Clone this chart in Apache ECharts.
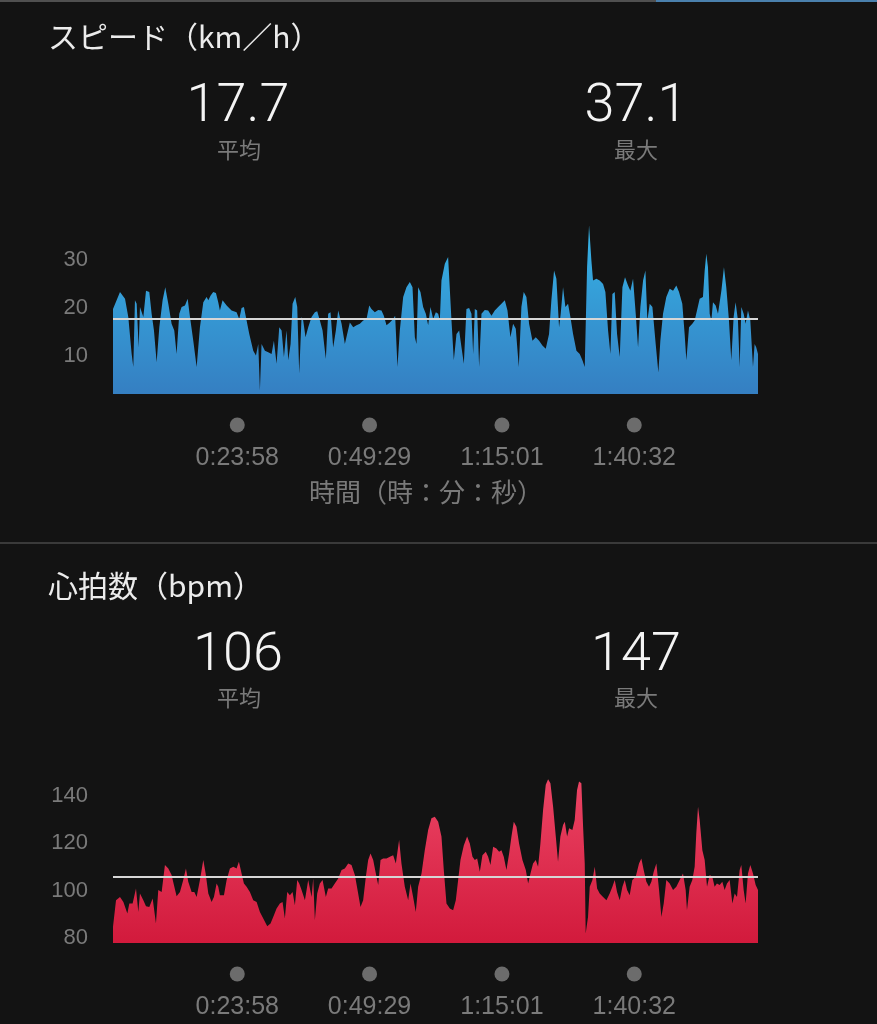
<!DOCTYPE html>
<html>
<head>
<meta charset="utf-8">
<script src="https://cdn.jsdelivr.net/npm/echarts@6/dist/echarts.min.js"></script>
<style>
html,body{margin:0;padding:0;background:#131313;}
#chart{width:877px;height:1024px;}
</style>
</head>
<body>
<div id="chart"></div>
<script>
// ---- Data ----
const tickLabels = ['0:23:58', '0:49:29', '1:15:01', '1:40:32'];
const speedTicks = [10, 20, 30];
const hrTicks = [80, 100, 120, 140];

const speedTitle = 'スピード（km／h）';
const hrTitle = '心拍数（bpm）';
const speedStats = ['17.7', '37.1'];
const hrStats = ['106', '147'];
const statNames = ['平均', '最大'];
const axisName = '時間（時：分：秒）';
const speedAvg = 17.7;
const hrAvg = 106;

// elapsed seconds
const speedTime = [0,81,139,177,216,235,254,274,297,312,332,351,382,420,447,474,505,536,574,605,640,678,709,736,767,794,833,864,891,929,968,1006,1045,1083,1103,1130,1160,1191,1218,1237,1268,1315,1372,1430,1461,1488,1515,1546,1577,1623,1654,1681,1700,1719,1758,1796,1835,1862,1893,1924,1951,1978,2008,2028,2055,2078,2109,2132,2155,2182,2201,2228,2259,2298,2336,2363,2394,2425,2463,2490,2517,2548,2579,2606,2645,2683,2710,2741,2780,2818,2857,2895,2934,2965,2991,3030,3069,3107,3134,3165,3204,3242,3265,3292,3319,3358,3396,3435,3466,3493,3512,3531,3558,3589,3620,3647,3674,3705,3736,3763,3782,3801,3840,3878,3917,3944,3975,4006,4033,4060,4090,4121,4148,4168,4187,4214,4237,4264,4302,4341,4380,4418,4457,4495,4534,4565,4599,4630,4661,4696,4726,4753,4784,4815,4854,4892,4931,4969,5008,5046,5073,5104,5131,5162,5181,5208,5235,5266,5293,5324,5363,5401,5432,5459,5486,5509,5536,5555,5594,5632,5671,5698,5729,5756,5779,5806,5833,5864,5895,5925,5960,5987,6018,6049,6076,6103,6134,6161,6184,6211,6242,6280,6311,6334,6365,6403,6442,6481,6519,6550,6588,6615,6635,6666,6704,6731,6758,6789,6827,6847,6866,6885,6905,6924,6943,6974,7001,7040,7070,7097,7128,7155,7182,7205,7232,7252,7271,7298,7321,7348,7375,7406,7425,7444,7464];
const speedValue = [19.7,23.2,21.8,18.0,10.3,7.6,21.5,20.8,11.7,20.1,19.7,18.0,23.5,23.2,18.7,15.2,8.6,15.9,21.5,24.2,20.8,16.6,15.2,10.3,18.7,20.1,20.4,21.8,18.0,13.1,7.6,15.9,21.1,22.2,21.5,22.5,23.2,23.0,21.1,19.4,21.5,20.4,19.4,19.0,17.6,19.9,20.1,17.3,14.5,11.0,10.0,12.4,2.7,12.4,11.0,10.7,10.3,13.1,8.3,15.9,15.2,9.7,15.2,9.0,12.4,20.8,22.2,20.1,6.2,18.0,17.3,13.8,15.9,18.0,19.0,19.2,17.3,15.2,9.3,18.7,19.0,11.7,15.2,19.4,16.6,12.4,14.5,16.9,15.9,16.3,16.6,17.3,17.6,20.4,19.7,19.0,19.5,19.4,18.3,16.3,16.9,17.6,18.3,7.6,15.2,22.2,24.2,25.3,24.2,13.8,12.4,24.2,23.2,20.1,18.7,16.3,20.1,17.6,19.0,18.7,17.3,25.6,29.1,30.5,17.3,9.0,14.5,15.2,11.7,8.3,19.7,19.9,18.7,10.3,19.7,19.4,7.6,18.7,19.5,19.4,18.3,19.4,20.1,20.8,21.5,19.4,13.8,16.6,15.6,7.6,20.1,23.2,22.2,16.6,13.1,13.8,13.1,12.1,11.4,14.5,21.5,27.7,26.0,15.9,18.7,24.2,20.1,20.8,18.0,14.5,11.0,10.3,9.0,7.6,28.4,37.1,29.8,25.6,26.0,25.6,24.9,23.2,15.2,10.3,22.8,23.2,14.5,9.7,24.2,26.3,24.6,23.5,26.0,18.7,11.7,20.1,25.6,27.7,17.3,20.8,20.1,12.4,6.5,13.1,18.7,22.2,23.9,23.5,24.6,23.2,20.8,14.5,9.0,15.9,16.6,17.3,19.4,21.8,22.2,27.7,31.2,28.4,18.7,17.3,21.1,20.4,18.7,23.5,28.4,24.2,17.3,9.0,18.0,21.1,17.3,7.6,20.1,18.7,16.6,19.4,17.3,7.6,12.4,11.7,10.3];

const hrTime = [0,35,81,120,166,189,227,266,293,312,351,382,420,459,497,524,563,601,640,678,705,736,775,813,844,871,910,941,968,1006,1045,1072,1103,1141,1168,1199,1218,1237,1284,1315,1353,1392,1430,1457,1488,1515,1546,1584,1623,1662,1700,1739,1785,1823,1854,1893,1931,1962,1989,2016,2047,2078,2105,2132,2155,2182,2221,2259,2298,2317,2336,2363,2394,2425,2463,2490,2529,2567,2606,2645,2683,2722,2760,2799,2837,2864,2895,2926,2953,2980,3011,3049,3069,3096,3126,3165,3204,3242,3273,3311,3338,3377,3416,3443,3473,3504,3531,3570,3608,3647,3685,3724,3763,3801,3828,3859,3898,3936,3967,3994,4021,4060,4098,4129,4160,4187,4214,4245,4275,4314,4341,4368,4399,4437,4468,4495,4522,4553,4584,4611,4638,4669,4699,4738,4777,4804,4831,4861,4892,4919,4946,4977,5008,5035,5062,5093,5124,5150,5177,5208,5228,5255,5278,5316,5343,5370,5393,5420,5440,5459,5470,5497,5517,5548,5575,5602,5632,5671,5710,5748,5779,5806,5833,5864,5895,5922,5949,5979,6010,6049,6087,6114,6141,6172,6203,6230,6257,6288,6319,6346,6373,6403,6442,6481,6519,6558,6596,6627,6642,6673,6704,6731,6750,6770,6789,6820,6847,6874,6905,6935,6962,6989,7020,7051,7078,7105,7136,7167,7194,7221,7252,7271,7298,7321,7348,7375,7406,7437,7464];
const hrValue = [84.8,96.0,97.4,95.3,90.4,94.6,94.6,101.0,91.1,98.8,96.0,93.5,93.2,96.7,86.2,100.3,99.5,110.8,109.4,106.6,102.4,97.7,99.5,104.5,109.4,103.8,99.5,99.5,97.4,104.5,112.9,107.3,98.8,95.3,97.4,103.1,101.7,98.1,98.1,104.5,109.4,110.1,109.4,112.2,107.3,103.1,101.7,99.5,96.0,95.3,91.1,88.3,85.1,86.2,89.0,92.5,94.6,95.3,88.3,99.5,98.1,99.5,93.9,104.5,103.1,100.3,96.0,104.5,97.4,105.2,87.6,98.8,103.1,104.5,97.4,101.0,101.0,103.1,105.2,108.7,109.4,111.5,110.8,106.6,98.8,93.2,96.0,105.9,112.9,115.7,112.9,105.9,102.4,112.9,113.6,113.6,114.3,115.0,111.5,121.4,111.5,101.7,96.0,103.1,97.4,91.1,101.7,107.3,117.1,125.6,130.5,131.2,129.1,122.8,108.7,94.6,92.5,91.8,96.0,104.5,112.9,119.2,122.8,119.9,114.3,112.9,113.6,108.0,115.0,116.4,114.3,110.8,118.5,117.8,116.4,117.1,114.3,108.7,115.7,122.8,129.1,127.0,119.9,112.9,108.7,103.1,107.3,111.5,112.9,110.1,119.9,134.0,144.6,147.0,145.3,135.4,122.8,112.2,122.8,127.7,129.1,122.8,126.3,125.6,129.8,142.4,146.0,145.3,127.0,111.5,82.0,89.0,101.7,104.5,110.1,101.0,98.8,97.4,96.0,98.8,101.7,104.5,99.5,96.0,101.7,104.5,100.3,98.1,104.5,105.9,111.5,113.6,108.7,103.8,101.7,103.8,108.0,111.5,100.3,89.0,94.6,104.5,103.1,100.3,101.7,104.5,107.3,100.3,91.8,101.7,104.5,110.1,124.2,135.4,129.8,117.1,112.9,101.7,106.6,105.9,101.7,103.1,102.4,103.8,100.3,103.1,104.5,94.6,98.8,97.4,108.7,110.8,100.3,94.6,107.3,110.8,107.3,102.4,100.3];

// ---- Build ----
function toSec(s) { const p = s.split(':').map(Number); return p[0] * 3600 + p[1] * 60 + p[2]; }
function fmt(sec) {
  const h = Math.floor(sec / 3600), m = Math.floor((sec % 3600) / 60), s = Math.round(sec % 60);
  return h + ':' + String(m).padStart(2, '0') + ':' + String(s).padStart(2, '0');
}
const tickSeconds = tickLabels.map(toSec);
const endTime = speedTime[speedTime.length - 1];
const speedData = speedTime.map((t, i) => [t, speedValue[i]]);
const hrData = hrTime.map((t, i) => [t, hrValue[i]]);

const NUM_FONT = "'Liberation Sans', Arial, sans-serif";
const CJK_FONT = "'Noto Sans CJK JP', 'Noto Sans', sans-serif";
const BIG_FONT = "Roboto, 'Liberation Sans', sans-serif";
const GRAY = '#7a7a7a';

function xAxisCfg(gi) {
  return {
    type: 'value', gridIndex: gi, min: 0, max: endTime,
    axisLine: { show: false }, axisTick: { show: false }, splitLine: { show: false },
    axisLabel: {
      customValues: tickSeconds,
      margin: 20,
      formatter: v => '{d| }\n{t|' + fmt(v) + '}',
      rich: {
        d: { width: 15, height: 15, borderRadius: 8, backgroundColor: '#6c6c6c', lineHeight: 22 },
        t: { color: GRAY, fontSize: 25, fontFamily: NUM_FONT, lineHeight: 44 }
      }
    }
  };
}
function yAxisCfg(gi, min, max, ticks) {
  return {
    type: 'value', gridIndex: gi, min: min, max: max,
    axisLine: { show: false }, axisTick: { show: false }, splitLine: { show: false },
    axisLabel: { customValues: ticks, color: GRAY, fontSize: 22, fontFamily: NUM_FONT, margin: 25 }
  };
}
function areaSeries(idx, data, cTop, cBot, avg) {
  return {
    type: 'line', xAxisIndex: idx, yAxisIndex: idx, data: data,
    showSymbol: false, symbol: 'none', smooth: false,
    lineStyle: { width: 0 },
    areaStyle: {
      origin: 'start', opacity: 1,
      color: new echarts.graphic.LinearGradient(0, 0, 0, 1, [
        { offset: 0, color: cTop }, { offset: 1, color: cBot }
      ])
    },
    markLine: {
      silent: true, symbol: 'none', label: { show: false },
      lineStyle: { color: '#d6d6d6', width: 2, type: 'solid' },
      data: [{ yAxis: avg }]
    },
    animation: false
  };
}
function txt(text, x, y, size, color, font, align, weight) {
  return { type: 'text', x: x, y: y, style: {
    text: text, fill: color, fontSize: size, fontFamily: font, fontWeight: weight || 'normal',
    align: align || 'center', verticalAlign: 'middle' } };
}

const chart = echarts.init(document.getElementById('chart'), null, { renderer: 'canvas' });
chart.setOption({
  backgroundColor: '#131313',
  animation: false,
  grid: [
    { left: 113, width: 645, top: 221, height: 173 },
    { left: 113, width: 645, top: 772, height: 171 }
  ],
  xAxis: [xAxisCfg(0), xAxisCfg(1)],
  yAxis: [yAxisCfg(0, 2, 38, speedTicks), yAxisCfg(1, 78, 150, hrTicks)],
  series: [
    areaSeries(0, speedData, '#35b3e6', '#357fc2', speedAvg),
    areaSeries(1, hrData, '#ec4565', '#d21a3c', hrAvg)
  ],
  graphic: [
    { type: 'rect', shape: { x: 0, y: 0, width: 877, height: 2 }, style: { fill: '#505050' } },
    { type: 'rect', shape: { x: 656, y: 0, width: 221, height: 2 }, style: { fill: '#4a80ad' } },
    { type: 'rect', shape: { x: 0, y: 542, width: 877, height: 2 }, style: { fill: '#3a3a3a' } },
    txt(speedTitle, 48, 37, 30, '#ececec', CJK_FONT, 'left'),
    txt(speedStats[0], 238, 107, 54, '#f4f4f4', BIG_FONT, 'center', 300),
    txt(speedStats[1], 636, 107, 54, '#f4f4f4', BIG_FONT, 'center', 300),
    txt(statNames[0], 239, 150, 22, GRAY, CJK_FONT),
    txt(statNames[1], 636, 150, 22, GRAY, CJK_FONT),
    txt(axisName, 309, 492, 26, GRAY, CJK_FONT, 'left'),
    txt(hrTitle, 48, 586, 30, '#ececec', CJK_FONT, 'left'),
    txt(hrStats[0], 238, 656, 54, '#f4f4f4', BIG_FONT, 'center', 300),
    txt(hrStats[1], 636, 656, 54, '#f4f4f4', BIG_FONT, 'center', 300),
    txt(statNames[0], 239, 698, 22, GRAY, CJK_FONT),
    txt(statNames[1], 636, 698, 22, GRAY, CJK_FONT)
  ]
});
</script>
</body>
</html>
